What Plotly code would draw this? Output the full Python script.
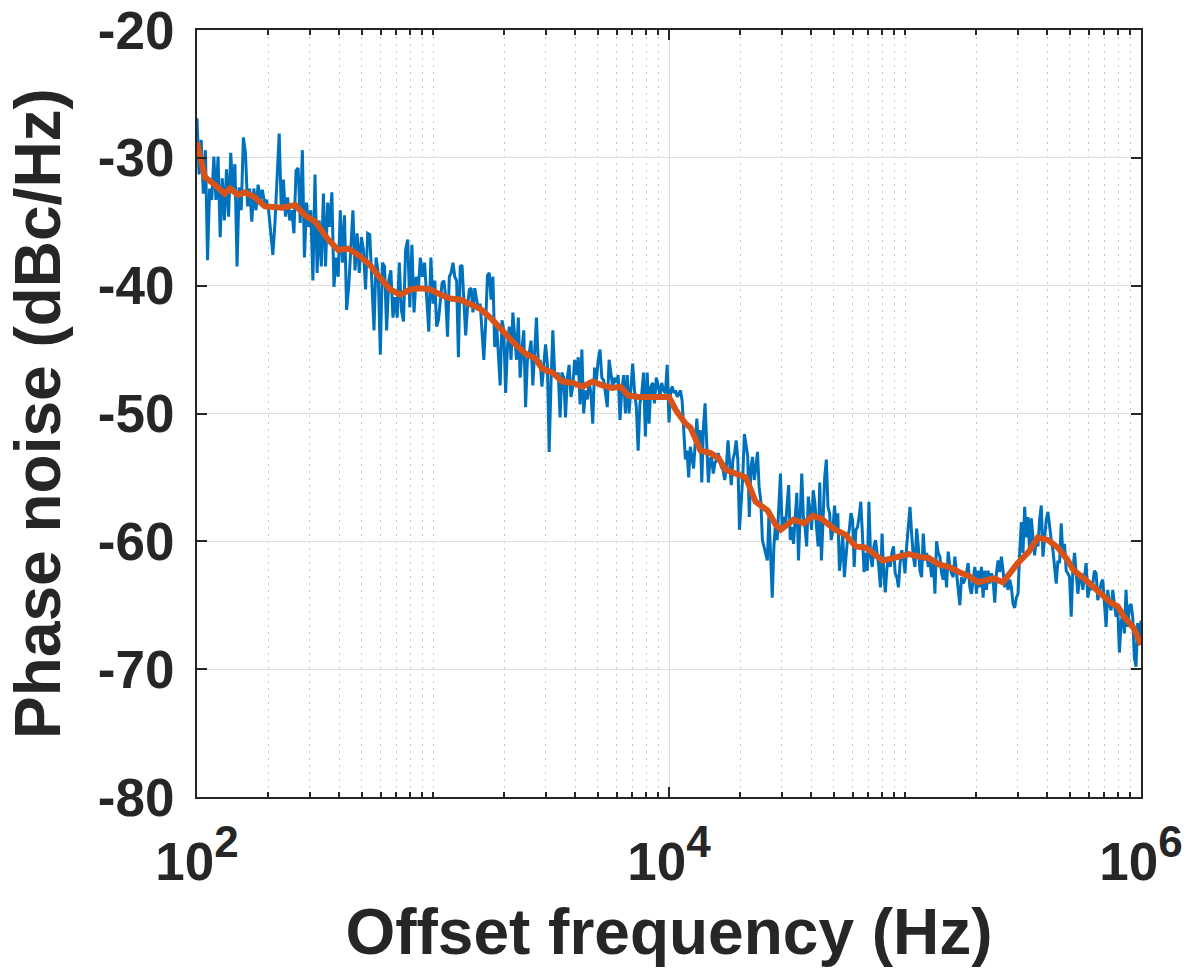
import numpy as np
import plotly.graph_objects as go

# Measured phase noise, one array per decade of offset frequency (dBc/Hz)
pn_100_1k = [
    -26.9, -31.3, -28.6, -32.8, -29.4, -38.0, -32.4, -33.3, -29.9, -33.3,
    -29.9, -36.2, -31.6, -34.9, -30.9, -34.6, -29.6, -32.3, -30.5, -38.5,
    -32.3, -34.1, -28.4, -29.6, -33.8, -32.4, -35.0, -32.4, -34.1, -32.1,
    -33.3, -32.5, -33.5, -33.3, -34.1, -35.6, -37.6, -35.1, -31.9, -28.1,
    -34.1, -31.7, -34.6, -33.1, -34.9, -34.1, -35.9, -31.0, -30.8, -35.1,
    -29.4, -37.8, -33.5, -35.4, -34.1, -39.6, -31.3, -39.0, -34.9, -38.5,
    -32.8, -38.5, -33.5, -35.4, -32.7, -40.1, -37.8, -39.3,
    -34.1, -38.2, -34.5, -41.9, -40.1, -37.2, -34.1, -38.8, -35.9, -39.0,
    -36.2, -37.2, -40.3, -35.9, -36.0, -39.8, -43.5, -37.8, -39.0, -45.4,
    -38.2, -38.5, -43.5, -39.6, -38.8, -42.5, -40.9, -42.5, -38.2, -41.9,
    -42.8, -37.2, -36.4, -41.7, -36.8, -42.1, -39.3, -40.4, -37.8, -39.3,
    -38.2, -40.9, -43.6, -37.8,
]
pn_1k_10k = [
    -41.4, -39.6, -43.2, -42.7, -41.1, -39.8, -39.6, -40.9, -44.0, -39.3,
    -39.0, -38.2, -39.3, -39.6, -45.6, -38.5, -38.4, -41.1, -43.9, -41.7,
    -40.3, -40.2, -42.1, -40.2, -41.0, -41.9, -41.4, -43.5, -45.8, -42.9,
    -39.2, -39.0, -41.1, -39.3, -44.8, -42.9, -45.3, -47.8, -42.7, -43.5,
    -48.4, -44.8, -43.2,
    -45.8, -42.1, -43.7, -45.8, -42.5, -47.2, -45.0, -43.5, -49.5, -45.8,
    -45.3, -44.3, -47.8, -45.0, -42.5, -46.1, -45.8, -47.9, -46.4, -44.6,
    -46.1, -53.0, -47.6, -43.5, -46.8, -47.2, -46.8, -50.3, -46.8, -47.2,
    -50.3, -47.2, -46.2, -48.7, -47.9, -45.8, -47.0, -45.6, -49.3, -45.0,
    -50.0, -48.2, -48.9, -47.6, -48.4, -50.8, -46.4, -47.4, -45.8, -45.0,
    -47.2, -47.4, -48.4, -49.5, -45.8, -46.9, -47.9, -47.2, -47.6, -47.0,
    -50.5, -48.2, -47.0, -50.0, -47.0, -50.0, -48.2, -46.1, -48.2, -49.5,
    -52.9, -49.2, -48.4, -46.8, -51.8, -46.8, -50.8, -47.9, -47.6, -49.2,
    -47.2, -47.8, -48.7, -47.6, -48.2, -48.4, -46.2,
]
pn_10k_100k = [
    -50.7, -48.2, -47.9, -48.4, -48.2, -48.7, -48.4, -48.2, -49.0, -51.1,
    -53.6, -52.9, -55.0, -52.6, -53.4, -54.3, -52.3, -50.4, -52.9, -51.3,
    -55.4, -51.1, -49.2, -52.3, -55.4, -53.6, -53.4, -54.7, -53.9, -53.6,
    -53.1, -53.6, -54.2, -54.4, -55.2, -54.2, -52.1, -53.9, -55.6, -53.6,
    -53.1, -52.1, -53.6, -59.1, -57.3, -55.0, -51.6, -52.6, -53.3, -58.1,
    -54.2, -53.4, -55.2, -54.2, -53.0, -55.8, -56.8, -59.9, -60.4, -60.9,
    -61.5, -57.8, -62.0, -64.4, -60.4, -58.6, -59.9, -56.8, -54.7, -58.9,
    -58.1, -58.9, -57.0, -55.6, -59.9, -58.9, -60.2, -57.8, -56.2, -61.5,
    -57.6, -54.7, -58.1, -58.9, -60.4, -56.5, -57.6, -59.1, -56.0, -57.0,
    -58.9, -60.4, -55.4, -61.5,
    -58.3, -55.0, -53.6, -57.3, -57.8, -59.9, -59.1, -57.2, -58.9, -57.8,
    -62.3, -61.2, -59.4, -62.8, -61.2, -59.7, -59.1, -57.8, -58.3, -62.0,
    -59.1, -58.9, -58.1, -56.9, -59.4, -62.4, -60.9, -62.3, -56.9, -61.2,
    -62.0, -60.4, -59.9, -60.9, -62.0, -63.6, -59.4, -62.5, -64.0, -62.0,
    -61.2, -62.0, -60.9, -60.4, -62.5, -62.8, -63.6, -61.7, -60.7, -61.2,
]
pn_100k_1m = [
    -62.5, -60.4, -59.1, -57.3, -59.4, -61.2, -62.0, -59.0, -60.4, -62.3,
    -62.8, -59.4, -61.5, -60.9, -62.0, -61.5, -62.8, -61.5, -64.1, -60.0,
    -60.9, -61.2, -62.5, -63.0, -61.7, -63.6, -60.8, -62.0, -62.5, -62.8,
    -61.2, -62.3, -63.8, -65.0, -62.8, -63.3, -63.0, -62.5, -61.7, -63.6,
    -64.1, -62.8, -62.0,
    -64.1, -62.3, -63.6, -62.0, -64.4, -62.3, -63.8, -62.3, -63.3, -62.5,
    -63.0, -64.8, -62.5, -61.5, -62.4, -61.2, -62.3, -63.6, -62.6, -63.8,
    -63.0, -63.6, -64.9, -65.2, -64.4, -64.1, -60.9, -58.5, -60.9, -57.3,
    -59.7, -58.1, -60.9, -58.2, -59.7, -61.1, -59.7, -60.4, -58.3, -57.2,
    -61.2, -59.7, -58.3, -57.7, -59.1, -59.9, -60.7, -62.3, -63.3, -61.5,
    -61.7, -58.6, -61.2, -60.2, -62.3, -62.5, -62.8, -65.9, -62.3, -60.9,
    -62.3, -64.1, -63.0, -62.5, -63.8, -62.8, -61.7, -64.4, -63.6, -63.8,
    -63.3, -62.3, -62.5, -64.6, -63.8, -63.3, -63.0, -64.6, -66.7, -63.8,
    -64.9, -65.4, -63.8, -64.9, -65.9, -65.1, -68.7, -66.4, -65.6, -67.2,
    -63.8, -66.7, -65.1, -64.9, -65.9, -69.1, -69.8, -66.4, -68.0, -66.2,
]

# Smoothed trace: offset frequency (Hz) and level (dBc/Hz)
smooth_freq = [
    100, 108, 119, 131, 138, 149, 160, 176, 194, 208, 230, 261, 287, 317,
    360, 396, 438, 491, 542, 597, 659, 726, 802, 883, 973, 1074, 1183, 1306,
    1439, 1585, 1750, 1928, 2128, 2234, 2460, 2716, 2904, 3206, 3532, 3899,
    4295, 4742, 5224, 5754, 6223, 6730, 7430, 8185, 9016, 10000, 10666,
    11749, 12331, 13614, 14997, 16218, 17378, 19543, 21135, 23281, 26182,
    28314, 29717, 33729, 37239, 40644, 43954, 50816, 56105, 61802, 68234,
    75162, 80538, 85310, 94189, 103753, 114288, 126183, 138995, 153462,
    169044, 186209, 203704, 224388, 237684, 260016, 281190, 300608, 334965,
    365595, 403645, 444631, 489779, 519996, 572796, 632412, 696626, 746449,
    797995, 847227, 933254, 1000000,
]
smooth_pn = [
    -28.8, -31.5, -32.1, -32.8, -32.4, -32.9, -32.7, -33.1, -33.8, -33.8,
    -33.9, -33.7, -34.5, -35.0, -36.4, -37.2, -37.1, -37.7, -38.4, -39.4,
    -40.3, -40.7, -40.3, -40.2, -40.3, -40.7, -41.0, -41.1, -41.5, -41.8,
    -42.5, -43.4, -44.2, -44.6, -45.3, -45.7, -46.5, -46.8, -47.5, -47.6,
    -47.9, -47.5, -47.8, -48.0, -47.9, -48.6, -48.7, -48.7, -48.8, -48.7,
    -49.7, -50.8, -51.1, -52.9, -53.1, -53.5, -54.4, -54.7, -55.0, -56.9,
    -57.6, -58.7, -59.1, -58.3, -58.6, -58.0, -58.2, -59.1, -59.5, -60.4,
    -60.5, -61.1, -61.5, -61.4, -61.2, -61.0, -61.2, -61.3, -61.8, -62.0,
    -62.4, -62.7, -63.2, -63.0, -62.9, -63.2, -62.3, -61.7, -60.8, -59.7,
    -59.9, -60.5, -61.5, -62.3, -62.9, -63.6, -64.2, -64.8, -65.1, -65.9,
    -66.8, -68.1,
]

y_ticks = [-80, -70, -60, -50, -40, -30, -20]
y_tick_labels = ["-80", "-70", "-60", "-50", "-40", "-30", "-20"]
x_ticks = [1e2, 1e4, 1e6]
x_tick_labels = [
    '10<sup><span style="font-size:44px">2</span></sup>',
    '10<sup><span style="font-size:44px">4</span></sup>',
    '10<sup><span style="font-size:44px">6</span></sup>',
]

# Spread each decade's samples evenly in log frequency
raw_freq, raw_pn = [], []
decades = [pn_100_1k, pn_1k_10k, pn_10k_100k, pn_100k_1m]
for k, vals in enumerate(decades):
    last = k == len(decades) - 1
    raw_freq.extend(np.logspace(2 + k, 3 + k, len(vals), endpoint=last))
    raw_pn.extend(vals)

# Minor x ticks/grid at every 1..9 x 10^n except the labelled decades
minor_vals = [d * 10.0 ** e for e in range(2, 6) for d in range(1, 10)
              if not (d == 1 and e % 2 == 0)]

AXIS = "#262626"
FONT = "Liberation Sans, Arial, Helvetica, sans-serif"

fig = go.Figure()
fig.add_trace(go.Scatter(x=raw_freq, y=raw_pn, mode="lines",
                         line=dict(color="#0072BD", width=3), showlegend=False))
fig.add_trace(go.Scatter(x=smooth_freq, y=smooth_pn, mode="lines",
                         line=dict(color="#D95319", width=6), showlegend=False))

fig.update_layout(
    width=1203, height=972,
    margin=dict(l=197, r=62, t=30, b=175),
    paper_bgcolor="white", plot_bgcolor="white",
    font=dict(family=FONT, color=AXIS),
)
fig.update_xaxes(
    type="log", range=[2, 6], automargin=False,
    tickmode="array", tickvals=x_ticks, ticktext=x_tick_labels,
    ticks="inside", ticklen=10, tickwidth=2, tickcolor=AXIS,
    tickfont=dict(size=53, weight="bold", color=AXIS),
    ticklabelstandoff=17,
    showline=True, linecolor=AXIS, linewidth=2, mirror="allticks",
    showgrid=True, gridcolor="#dedede", gridwidth=1,
    minor=dict(tickmode="array", tickvals=minor_vals, ticks="inside",
               ticklen=5, tickwidth=2, tickcolor=AXIS,
               showgrid=True, gridcolor="#c8c8c8", griddash="2px,5px",
               gridwidth=1),
    title=dict(text="Offset frequency (Hz)", standoff=20,
               font=dict(size=64, weight="bold", color=AXIS)),
)
fig.update_yaxes(
    range=[-80, -20], automargin=False,
    tickmode="array", tickvals=y_ticks, ticktext=y_tick_labels,
    ticks="inside", ticklen=10, tickwidth=2, tickcolor=AXIS,
    tickfont=dict(size=53, weight="bold", color=AXIS),
    ticklabelstandoff=10,
    showline=True, linecolor=AXIS, linewidth=2, mirror="allticks",
    showgrid=True, gridcolor="#dedede", gridwidth=1, zeroline=False,
    title=dict(text="Phase noise (dBc/Hz)", standoff=16,
               font=dict(size=64, weight="bold", color=AXIS)),
)

fig.write_html("out.html")
